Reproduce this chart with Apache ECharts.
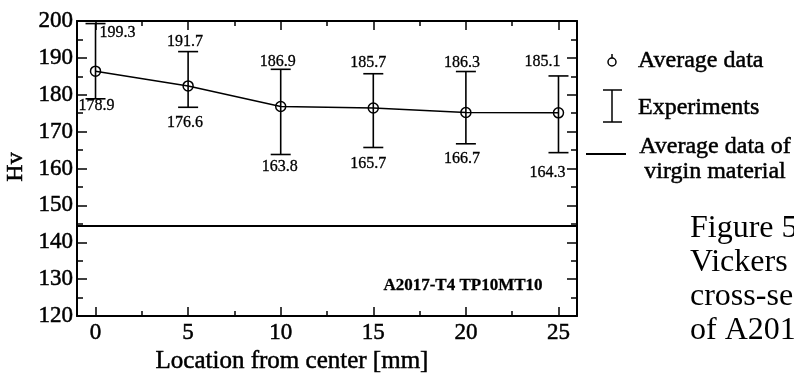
<!DOCTYPE html>
<html><head><meta charset="utf-8">
<script src="https://cdn.jsdelivr.net/npm/echarts@6/dist/echarts.min.js"></script>
<style>html,body{margin:0;padding:0;background:#fff}#c{width:794px;height:374px}</style>
</head><body><div id="c"></div>
<script>
// ---- data ----
const locations = [0, 5, 10, 15, 20, 25];
const averageHv = [186.4, 182.4, 176.8, 176.4, 175.2, 175.1];
const maxHv = [199.3, 191.7, 186.9, 185.7, 186.3, 185.1];
const minHv = [178.9, 176.6, 163.8, 165.7, 166.7, 164.3];
const virginHv = 144.4;
const xTicks = [0, 5, 10, 15, 20, 25];
const xMinorTicks = [2.5, 7.5, 12.5, 17.5, 22.5];
const yMin = 120, yMax = 200, yStep = 10;
const xTitle = 'Location from center [mm]';
const yTitle = 'Hv';
const specimen = 'A2017-T4 TP10MT10';
const legendLabels = ['Average data', 'Experiments', 'Average data of', 'virgin material'];
const captionLines = ['Figure 5', 'Vickers hardness', 'cross-section', 'of A2017'];

// ---- label layout (offsets from bar ends, px) ----
const upperLabelLayout = [[4, 9, 'left'], [-3, -10, 'center'], [-3, -8, 'center'], [-5, -11, 'center'], [-4, -9, 'center'], [2, -14, 'right']];
const lowerLabelLayout = [[1, 7, 'center'], [-3, 16, 'center'], [-1, 12, 'center'], [-5, 16, 'center'], [-4, 15, 'center'], [7, 20, 'right']];

const FONT = '"Liberation Serif", "Times New Roman", serif';
const BLACK = '#000';
const HEAVY = 0.5; // scanned print looks slightly heavy

const chart = echarts.init(document.getElementById('c'), null, {renderer: 'canvas'});

function txt(text, x, y, size, opts) {
  opts = opts || {};
  const heavy = opts.heavy === undefined ? HEAVY : opts.heavy;
  const style = {
    text: text, fill: BLACK,
    font: (opts.weight || 'normal') + ' ' + size + 'px ' + FONT,
    align: opts.align || 'left', verticalAlign: 'middle',
    textAlign: opts.align || 'left', textVerticalAlign: 'middle'
  };
  if (heavy > 0) { style.stroke = BLACK; style.lineWidth = heavy; }
  return {type: 'text', x: x, y: y, rotation: opts.rotation || 0, silent: true, style: style};
}

const xAxisBase = {
  type: 'value', min: -1, max: 26, splitLine: {show: false},
  axisLine: {show: true, onZero: false, lineStyle: {color: BLACK, width: 2}}
};
const yAxisBase = {
  type: 'value', min: yMin, max: yMax, interval: yStep, splitLine: {show: false},
  axisLine: {show: true, onZero: false, lineStyle: {color: BLACK, width: 2}},
  axisTick: {show: true, inside: true, length: 10, lineStyle: {color: BLACK, width: 1.5}},
  minorTick: {show: true, splitNumber: 2, length: 6, lineStyle: {color: BLACK, width: 1.5}}
};
const tickLabelStyle = {color: BLACK, fontFamily: FONT, fontSize: 23, textBorderColor: BLACK, textBorderWidth: HEAVY};

const option = {
  animation: false,
  backgroundColor: '#fff',
  grid: {left: 77, right: 217, top: 21, bottom: 58},
  xAxis: [
    Object.assign({}, xAxisBase, {
      position: 'bottom',
      axisTick: {show: true, inside: true, length: 9, customValues: xTicks, lineStyle: {color: BLACK, width: 1.5}},
      axisLabel: Object.assign({show: true, customValues: xTicks, margin: 5}, tickLabelStyle)
    }),
    Object.assign({}, xAxisBase, {
      position: 'bottom', axisLine: {show: false, onZero: false},
      axisTick: {show: true, inside: true, length: 5, customValues: xMinorTicks, lineStyle: {color: BLACK, width: 1.5}},
      axisLabel: {show: false}
    }),
    Object.assign({}, xAxisBase, {
      position: 'top',
      axisTick: {show: true, inside: true, length: 9, customValues: xTicks, lineStyle: {color: BLACK, width: 1.5}},
      axisLabel: {show: false}
    }),
    Object.assign({}, xAxisBase, {
      position: 'top', axisLine: {show: false, onZero: false},
      axisTick: {show: true, inside: true, length: 5, customValues: xMinorTicks, lineStyle: {color: BLACK, width: 1.5}},
      axisLabel: {show: false}
    })
  ],
  yAxis: [
    Object.assign({}, yAxisBase, {
      position: 'left',
      axisLabel: Object.assign({show: true, margin: 4}, tickLabelStyle)
    }),
    Object.assign({}, yAxisBase, {position: 'right', axisLabel: {show: false}})
  ],
  series: [
    {
      type: 'custom',
      xAxisIndex: 0, yAxisIndex: 0,
      encode: {x: 0, y: [1, 2]},
      data: locations.map((x, i) => [x, minHv[i], maxHv[i], i]),
      z: 2,
      renderItem: function (params, api) {
        const i = api.value(3);
        const x = api.value(0);
        const top = api.coord([x, api.value(2)]);
        const bot = api.coord([x, api.value(1)]);
        const hw = 10;
        const ls = {stroke: BLACK, lineWidth: 1.6};
        const u = upperLabelLayout[i], l = lowerLabelLayout[i];
        return {
          type: 'group',
          children: [
            {type: 'line', shape: {x1: top[0], y1: top[1], x2: bot[0], y2: bot[1]}, style: ls},
            {type: 'line', shape: {x1: top[0] - hw, y1: top[1], x2: top[0] + hw, y2: top[1]}, style: ls},
            {type: 'line', shape: {x1: bot[0] - hw, y1: bot[1], x2: bot[0] + hw, y2: bot[1]}, style: ls},
            txt(maxHv[i].toFixed(1), top[0] + u[0], top[1] + u[1], 16, {align: u[2], heavy: 0.3}),
            txt(minHv[i].toFixed(1), bot[0] + l[0], bot[1] + l[1], 16, {align: l[2], heavy: 0.3})
          ]
        };
      }
    },
    {
      type: 'line',
      xAxisIndex: 0, yAxisIndex: 0,
      data: locations.map((x, i) => [x, averageHv[i]]),
      symbol: 'circle', symbolSize: 10,
      itemStyle: {color: 'rgba(255,255,255,0)', borderColor: BLACK, borderWidth: 1.5},
      lineStyle: {color: BLACK, width: 1.5},
      z: 3,
      markLine: {
        silent: true, symbol: 'none',
        label: {show: false},
        lineStyle: {color: BLACK, width: 2, type: 'solid'},
        data: [{yAxis: virginHv}]
      }
    }
  ],
  graphic: {
    elements: [
      txt(yTitle, 16, 167, 24, {rotation: Math.PI / 2, align: 'center'}),
      txt(xTitle, 292, 361, 25, {align: 'center'}),
      txt(specimen, 463, 286, 17, {align: 'center', weight: 'bold', heavy: 0.3}),
      // legend: average data
      {type: 'circle', shape: {cx: 612, cy: 62, r: 4}, style: {fill: 'none', stroke: BLACK, lineWidth: 1.5}},
      {type: 'line', shape: {x1: 612, y1: 54, x2: 612, y2: 58}, style: {stroke: BLACK, lineWidth: 1.5}},
      txt(legendLabels[0], 638, 61, 24),
      // legend: experiments
      {type: 'line', shape: {x1: 612, y1: 90, x2: 612, y2: 122}, style: {stroke: BLACK, lineWidth: 1.5}},
      {type: 'line', shape: {x1: 603, y1: 90, x2: 622, y2: 90}, style: {stroke: BLACK, lineWidth: 1.5}},
      {type: 'line', shape: {x1: 603, y1: 122, x2: 622, y2: 122}, style: {stroke: BLACK, lineWidth: 1.5}},
      txt(legendLabels[1], 638, 108, 24),
      // legend: virgin material
      {type: 'line', shape: {x1: 586, y1: 154, x2: 626, y2: 154}, style: {stroke: BLACK, lineWidth: 2}},
      txt(legendLabels[2], 715, 147, 24, {align: 'center'}),
      txt(legendLabels[3], 715, 172, 24, {align: 'center'}),
      // caption
      txt(captionLines[0], 690, 229, 32, {heavy: 0}),
      txt(captionLines[1], 690, 263, 32, {heavy: 0}),
      txt(captionLines[2], 690, 297, 32, {heavy: 0}),
      txt(captionLines[3], 690, 331, 32, {heavy: 0})
    ]
  }
};
chart.setOption(option);
</script>
</body></html>
